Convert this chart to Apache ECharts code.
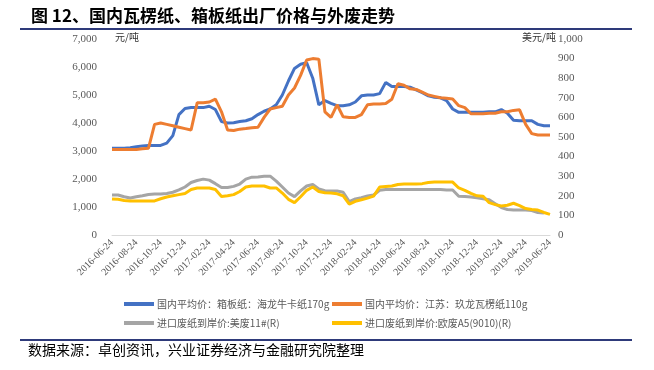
<!DOCTYPE html>
<html><head><meta charset="utf-8">
<script src="https://cdn.jsdelivr.net/npm/echarts@6/dist/echarts.min.js"></script>
<style>html,body{margin:0;padding:0;background:#fff}#c{width:654px;height:370px}</style>
</head><body><div id="c"></div>
<script>
const dates = [
"2016-06-24","2016-07-09","2016-07-24","2016-08-09","2016-08-24","2016-09-09","2016-09-24","2016-10-09","2016-10-24","2016-11-09","2016-11-24","2016-12-09","2016-12-24",
"2017-01-09","2017-01-24","2017-02-09","2017-02-24","2017-03-09","2017-03-24","2017-04-09","2017-04-24","2017-05-09","2017-05-24","2017-06-09","2017-06-24","2017-07-09","2017-07-24","2017-08-09","2017-08-24","2017-09-09","2017-09-24","2017-10-09","2017-10-24","2017-11-09","2017-11-24","2017-12-09","2017-12-24",
"2018-01-09","2018-01-24","2018-02-09","2018-02-24","2018-03-09","2018-03-24","2018-04-09","2018-04-24","2018-05-09","2018-05-24","2018-06-09","2018-06-24","2018-07-09","2018-07-24","2018-08-09","2018-08-24","2018-09-09","2018-09-24","2018-10-09","2018-10-24","2018-11-09","2018-11-24","2018-12-09","2018-12-24",
"2019-01-09","2019-01-24","2019-02-09","2019-02-24","2019-03-09","2019-03-24","2019-04-09","2019-04-24","2019-05-09","2019-05-24","2019-06-09","2019-06-24"];

const boxboard = [3100,3100,3100,3120,3150,3180,3200,3200,3200,3280,3550,4300,4520,
4550,4550,4550,4600,4480,4050,4000,4010,4050,4080,4150,4300,4420,4500,4650,5000,5500,5950,6100,6150,5600,4650,4800,4700,
4620,4620,4650,4750,4970,5000,5000,5050,5450,5300,5300,5300,5280,5180,5080,4970,4920,4900,4800,4500,4380,4380,4380,4380,
4380,4400,4400,4480,4350,4100,4080,4080,4080,3950,3900,3900];

const corrugated = [3050,3050,3050,3050,3050,3080,3100,3950,4000,3950,3900,3850,3800,
3750,4720,4720,4750,4850,4400,3750,3730,3780,3800,3830,3850,4200,4500,4550,4600,5000,5250,5700,6250,6300,6280,4400,4200,
4650,4220,4200,4200,4300,4650,4680,4680,4700,4850,5400,5350,5220,5200,5100,5000,4950,4900,4880,4860,4620,4550,4330,4330,
4330,4350,4350,4400,4400,4450,4470,3950,3620,3570,3570,3570];

const usOcc11 = [204,204,195,189,195,200,207,209,209,212,218,230,245,
268,278,285,280,262,242,242,248,260,285,295,296,300,300,275,245,214,196,225,250,258,235,226,224,
224,218,170,184,190,199,204,228,232,232,232,232,232,232,232,232,232,232,230,230,198,196,194,
190,185,180,160,140,130,128,128,128,125,115,112];

const euA5 = [184,182,176,173,173,173,173,174,185,194,200,206,212,
232,240,240,240,232,196,200,206,222,245,250,250,250,240,240,214,182,165,195,228,245,222,216,214,
210,200,158,172,180,188,198,245,248,250,258,260,260,260,262,268,270,270,270,270,240,228,212,200,
198,165,155,148,152,162,150,135,130,127,115,105];

const names = ["国内平均价：箱板纸：海龙牛卡纸170g","国内平均价：江苏：玖龙瓦楞纸110g","进口废纸到岸价:美废11#(R)","进口废纸到岸价:欧废A5(9010)(R)"];
const colors = ["#4472C4","#ED7D31","#A5A5A5","#FFC000"];

const chart = echarts.init(document.getElementById('c'));
const serif = "'Liberation Serif','Noto Sans CJK SC',serif";
const lg = (i, left, top) => ({
  data:[names[i]], left:left, top:top, itemWidth:30, itemHeight:4, icon:'rect', itemGap:0,
  textStyle:{fontSize:10, color:'#595959', fontFamily:"'Noto Sans CJK SC'", padding:[0,0,0,-2]}
});
chart.setOption({
  animation:false,
  grid:{left:112, right:104, top:39, bottom:135},
  title:{text:"图 12、国内瓦楞纸、箱板纸出厂价格与外废走势", left:26, top:2,
    textStyle:{fontSize:17, fontWeight:'bold', color:'#000', fontFamily:"'Noto Sans CJK SC'"}},
  legend:[lg(0,119,294), lg(1,327,294), lg(2,119,313), lg(3,327,313)],
  graphic:[
    {type:'line', shape:{x1:20,y1:29,x2:632,y2:29}, style:{stroke:'#2E3A7A', lineWidth:2}},
    {type:'line', shape:{x1:20,y1:340,x2:632,y2:340}, style:{stroke:'#2E3A7A', lineWidth:2}},
    {type:'text', left:28, top:343, style:{text:"数据来源：卓创资讯，兴业证券经济与金融研究院整理", fontSize:14, fill:'#000', fontFamily:"'Noto Sans CJK SC'"}},
    {type:'text', left:115, top:32, style:{text:"元/吨", fontSize:10, fill:'#333', fontFamily:"'Noto Sans CJK SC'"}},
    {type:'text', left:522, top:32, style:{text:"美元/吨", fontSize:10, fill:'#333', fontFamily:"'Noto Sans CJK SC'"}}
  ],
  xAxis:{type:'category', data:dates, boundaryGap:false,
    axisLine:{lineStyle:{color:'#D9D9D9'}}, axisTick:{show:false},
    axisLabel:{interval:3, rotate:45, fontSize:10, color:'#595959', fontFamily:serif, margin:6}},
  yAxis:[
    {type:'value', min:0, max:7000, interval:1000, splitLine:{show:false}, axisLine:{show:false}, axisTick:{show:false},
     axisLabel:{fontSize:11, color:'#595959', fontFamily:serif, margin:15,
       formatter:v=>v===0?'0':(Math.floor(v/1000)+','+String(v%1000).padStart(3,'0'))}},
    {type:'value', min:0, max:1000, interval:100, splitLine:{show:false}, axisLine:{show:false}, axisTick:{show:false},
     axisLabel:{fontSize:11, color:'#595959', fontFamily:serif, margin:8}}
  ],
  series:[
    {name:names[0], type:'line', data:boxboard, yAxisIndex:0, showSymbol:false, lineStyle:{width:3, color:colors[0]}, itemStyle:{color:colors[0]}},
    {name:names[1], type:'line', data:corrugated, yAxisIndex:0, showSymbol:false, lineStyle:{width:3, color:colors[1]}, itemStyle:{color:colors[1]}},
    {name:names[2], type:'line', data:usOcc11, yAxisIndex:1, showSymbol:false, lineStyle:{width:3, color:colors[2]}, itemStyle:{color:colors[2]}},
    {name:names[3], type:'line', data:euA5, yAxisIndex:1, showSymbol:false, lineStyle:{width:3, color:colors[3]}, itemStyle:{color:colors[3]}}
  ]
});
</script></body></html>
